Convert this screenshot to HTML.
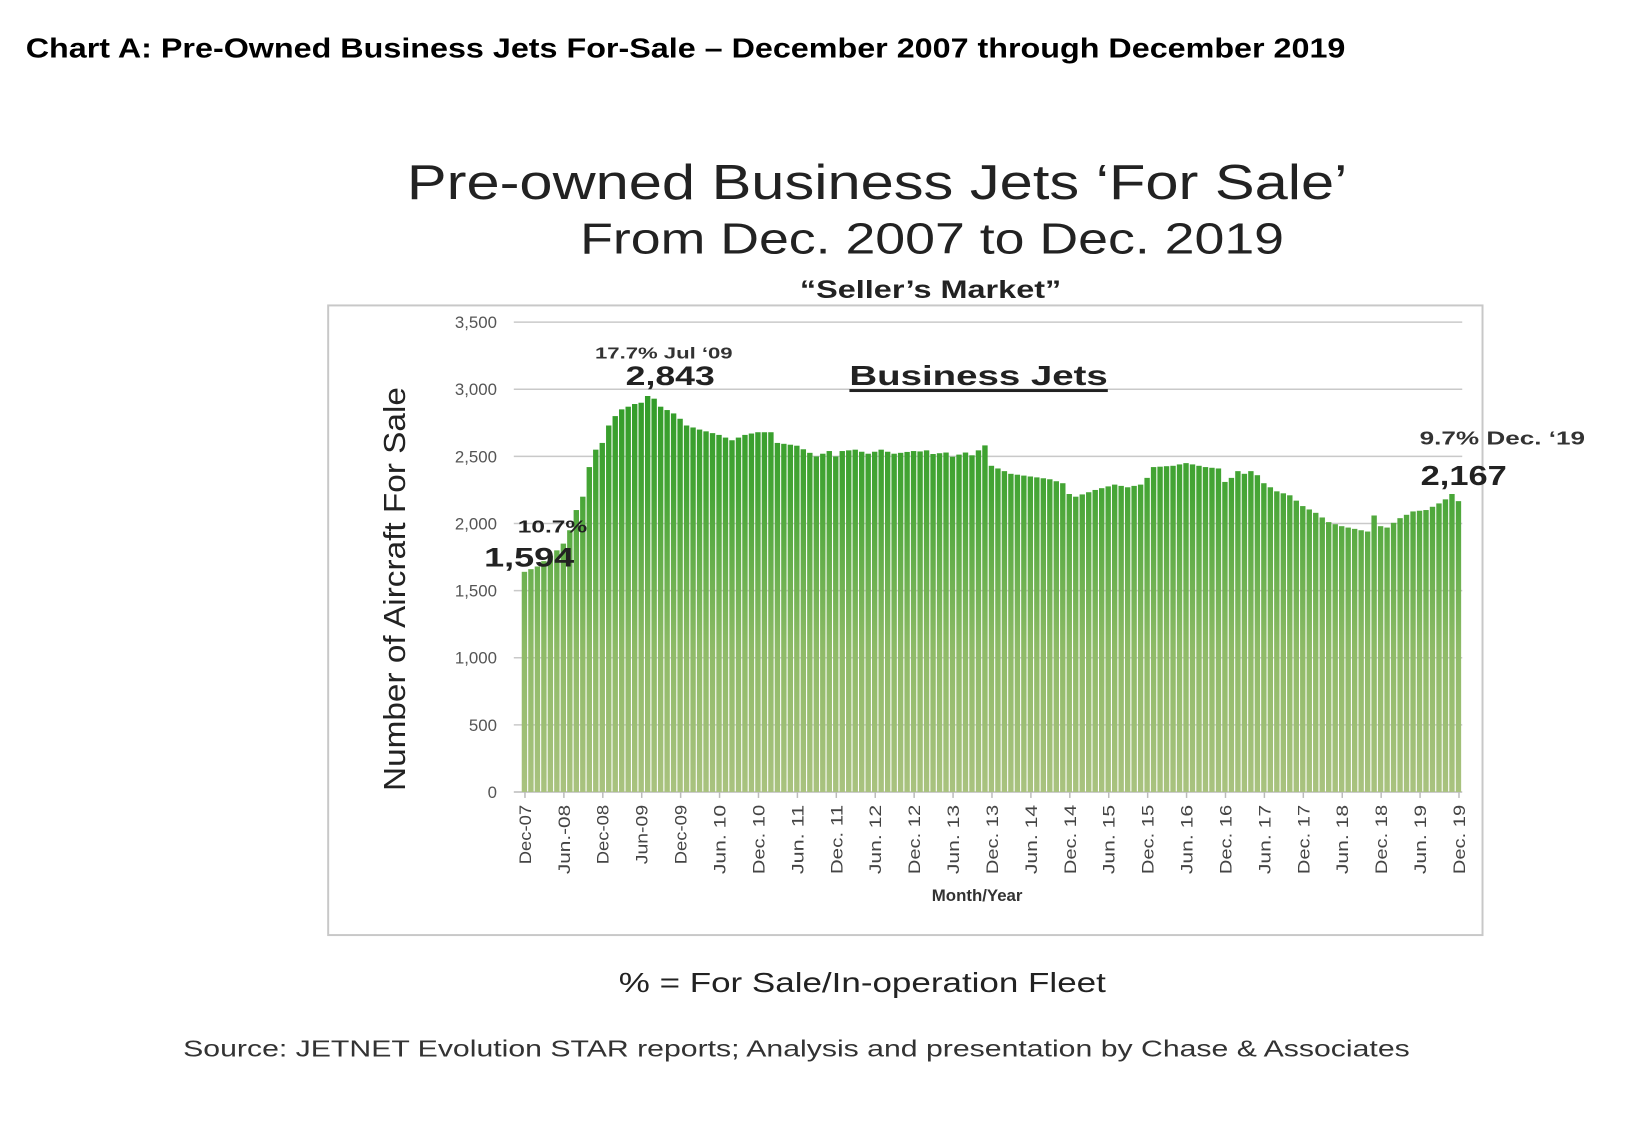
<!DOCTYPE html>
<html><head><meta charset="utf-8"><style>
html,body{margin:0;padding:0;background:#fff;}
svg{display:block;}
text{font-family:"Liberation Sans",sans-serif;}
</style></head><body>
<svg id="s" width="1642" height="1122" viewBox="0 0 1642 1122" xmlns="http://www.w3.org/2000/svg">
<defs>
<linearGradient id="g" gradientUnits="userSpaceOnUse" x1="0" y1="330" x2="0" y2="800">
<stop offset="0" stop-color="#23951f"/>
<stop offset="0.35" stop-color="#45a535"/>
<stop offset="0.7" stop-color="#8fbb68"/>
<stop offset="1" stop-color="#a9c27f"/>
</linearGradient>
</defs>
<g transform="scale(0.99)">
<text x="26" y="58" font-size="28" font-weight="bold" textLength="1333" lengthAdjust="spacingAndGlyphs">Chart A: Pre-Owned Business Jets For-Sale – December 2007 through December 2019</text>
<text x="411" y="201" font-size="50" fill="#222" textLength="950" lengthAdjust="spacingAndGlyphs">Pre-owned Business Jets ‘For Sale’</text>
<text x="586" y="256" font-size="44" fill="#222" textLength="711" lengthAdjust="spacingAndGlyphs">From Dec. 2007 to Dec. 2019</text>
<text x="808" y="301" font-size="25" font-weight="bold" fill="#222" textLength="264" lengthAdjust="spacingAndGlyphs">“Seller’s Market”</text>
<rect x="331.5" y="308.5" width="1166" height="636" fill="none" stroke="#c8c8c8" stroke-width="2"/>
<g id="grid" stroke="#c9c9c9" stroke-width="1.5"></g>
<g id="bars"></g>
<g id="ylab" font-size="17" fill="#555" text-anchor="end"></g>
<g id="xlab" font-size="17" fill="#444"></g>
<text transform="translate(409,595) rotate(-90)" text-anchor="middle" font-size="31" fill="#222" textLength="408" lengthAdjust="spacingAndGlyphs">Number  of Aircraft For Sale</text>
<text x="987" y="910" text-anchor="middle" font-size="17" font-weight="bold" fill="#333">Month/Year</text>
<text x="601" y="362" font-size="16" font-weight="bold" fill="#333" textLength="139" lengthAdjust="spacingAndGlyphs">17.7% Jul ‘09</text>
<text x="632" y="389" font-size="27" font-weight="bold" fill="#222" textLength="90" lengthAdjust="spacingAndGlyphs">2,843</text>
<text x="858" y="389" font-size="28" font-weight="bold" fill="#222" textLength="261" lengthAdjust="spacingAndGlyphs">Business Jets</text>
<rect x="858" y="393" width="261" height="3" fill="#222"/>
<text x="523" y="538" font-size="18" font-weight="bold" fill="#222" textLength="70" lengthAdjust="spacingAndGlyphs">10.7%</text>
<text x="489" y="572" font-size="27" font-weight="bold" fill="#222" textLength="91" lengthAdjust="spacingAndGlyphs">1,594</text>
<text x="1434" y="449" font-size="19" font-weight="bold" fill="#333" textLength="167" lengthAdjust="spacingAndGlyphs">9.7% Dec. ‘19</text>
<text x="1435" y="490" font-size="28" font-weight="bold" fill="#222" textLength="87" lengthAdjust="spacingAndGlyphs">2,167</text>
<text x="625" y="1002" font-size="28" fill="#222" textLength="492" lengthAdjust="spacingAndGlyphs">% = For Sale/In-operation Fleet</text>
<text x="185" y="1067" font-size="23" fill="#333" textLength="1239" lengthAdjust="spacingAndGlyphs">Source: JETNET Evolution STAR reports; Analysis and presentation by Chase &amp; Associates</text>
</g>
</svg>
<script>
(function(){
var NS="http://www.w3.org/2000/svg";
function el(t,a,p){var e=document.createElementNS(NS,t);for(var k in a)e.setAttribute(k,a[k]);p.appendChild(e);return e;}
var y0=800, per=67.8/500;
function Y(v){return y0-v*per;}
var grid=document.getElementById('grid'), yl=document.getElementById('ylab');
var labs=["0","500","1,000","1,500","2,000","2,500","3,000","3,500"];
for(var i=0;i<8;i++){var y=Y(i*500);
 if(i>0)el('line',{x1:519,x2:1477,y1:y,y2:y},grid);
 var t=el('text',{x:502,y:y+6},yl);t.textContent=labs[i];}
var kp=[[0,1640],[1,1660],[2,1680],[3,1720],[4,1760],[5,1800],[6,1850],[7,1950],[8,2100],[9,2200],[10,2420],[11,2550],[12,2600],[13,2730],[14,2800],[15,2850],[17,2890],[18,2900],[19,2950],[20,2930],[21,2870],[23,2820],[24,2780],[25,2730],[27,2700],[30,2660],[32,2620],[34,2660],[36,2680],[38,2680],[39,2600],[42,2580],[45,2500],[47,2540],[48,2500],[49,2540],[51,2550],[53,2520],[55,2550],[57,2520],[60,2540],[63,2530],[66,2510],[69,2520],[71,2570],[72,2430],[75,2370],[78,2350],[81,2330],[83,2300],[84,2220],[85,2200],[88,2250],[91,2290],[93,2270],[95,2290],[96,2340],[97,2420],[100,2430],[102,2450],[105,2420],[107,2410],[108,2310],[109,2340],[110,2390],[111,2370],[112,2390],[113,2360],[114,2300],[116,2240],[118,2210],[120,2130],[122,2080],[124,2010],[126,1980],[128,1960],[130,1940],[131,2060],[132,1980],[133,1970],[135,2040],[137,2090],[139,2100],[141,2150],[142,2180],[143,2220],[144,2167]];
function val(i){for(var j=0;j<kp.length-1;j++){if(i>=kp[j][0]&&i<=kp[j+1][0]){var f=(i-kp[j][0])/(kp[j+1][0]-kp[j][0]);return kp[j][1]+f*(kp[j+1][1]-kp[j][1]);}}return kp[kp.length-1][1];}
var bars=document.getElementById('bars');
var x0=527,bw=950/145;
for(var i=0;i<145;i++){var v=val(i);if(i>60&&i<72)v+=((i%3)-1)*12;
 el('rect',{x:(x0+i*bw).toFixed(2),y:Y(v).toFixed(1),width:(bw-1.1).toFixed(2),height:(v*per).toFixed(1),fill:'url(#g)'},bars);}
el('line',{x1:519,x2:1477,y1:y0,y2:y0,stroke:'#bbb','stroke-width':1.5},grid);
var xl=document.getElementById('xlab');
var xs=["Dec-07","Jun.-08","Dec-08","Jun-09","Dec-09","Jun. 10","Dec. 10","Jun. 11","Dec. 11","Jun. 12","Dec. 12","Jun. 13","Dec. 13","Jun. 14","Dec. 14","Jun. 15","Dec. 15","Jun. 16","Dec. 16","Jun. 17","Dec. 17","Jun. 18","Dec. 18","Jun. 19","Dec. 19"];
for(var k=0;k<25;k++){var x=x0+(k*6+0.5)*bw;
 el('line',{x1:x,x2:x,y1:y0,y2:y0+6,stroke:'#bbb','stroke-width':1.5},grid);
 var t=el('text',{transform:'translate('+(x+6)+',813) rotate(-90)','text-anchor':'end',textLength:xs[k].length*10,lengthAdjust:'spacingAndGlyphs'},xl);t.textContent=xs[k];}
})();
</script>
</body></html>
